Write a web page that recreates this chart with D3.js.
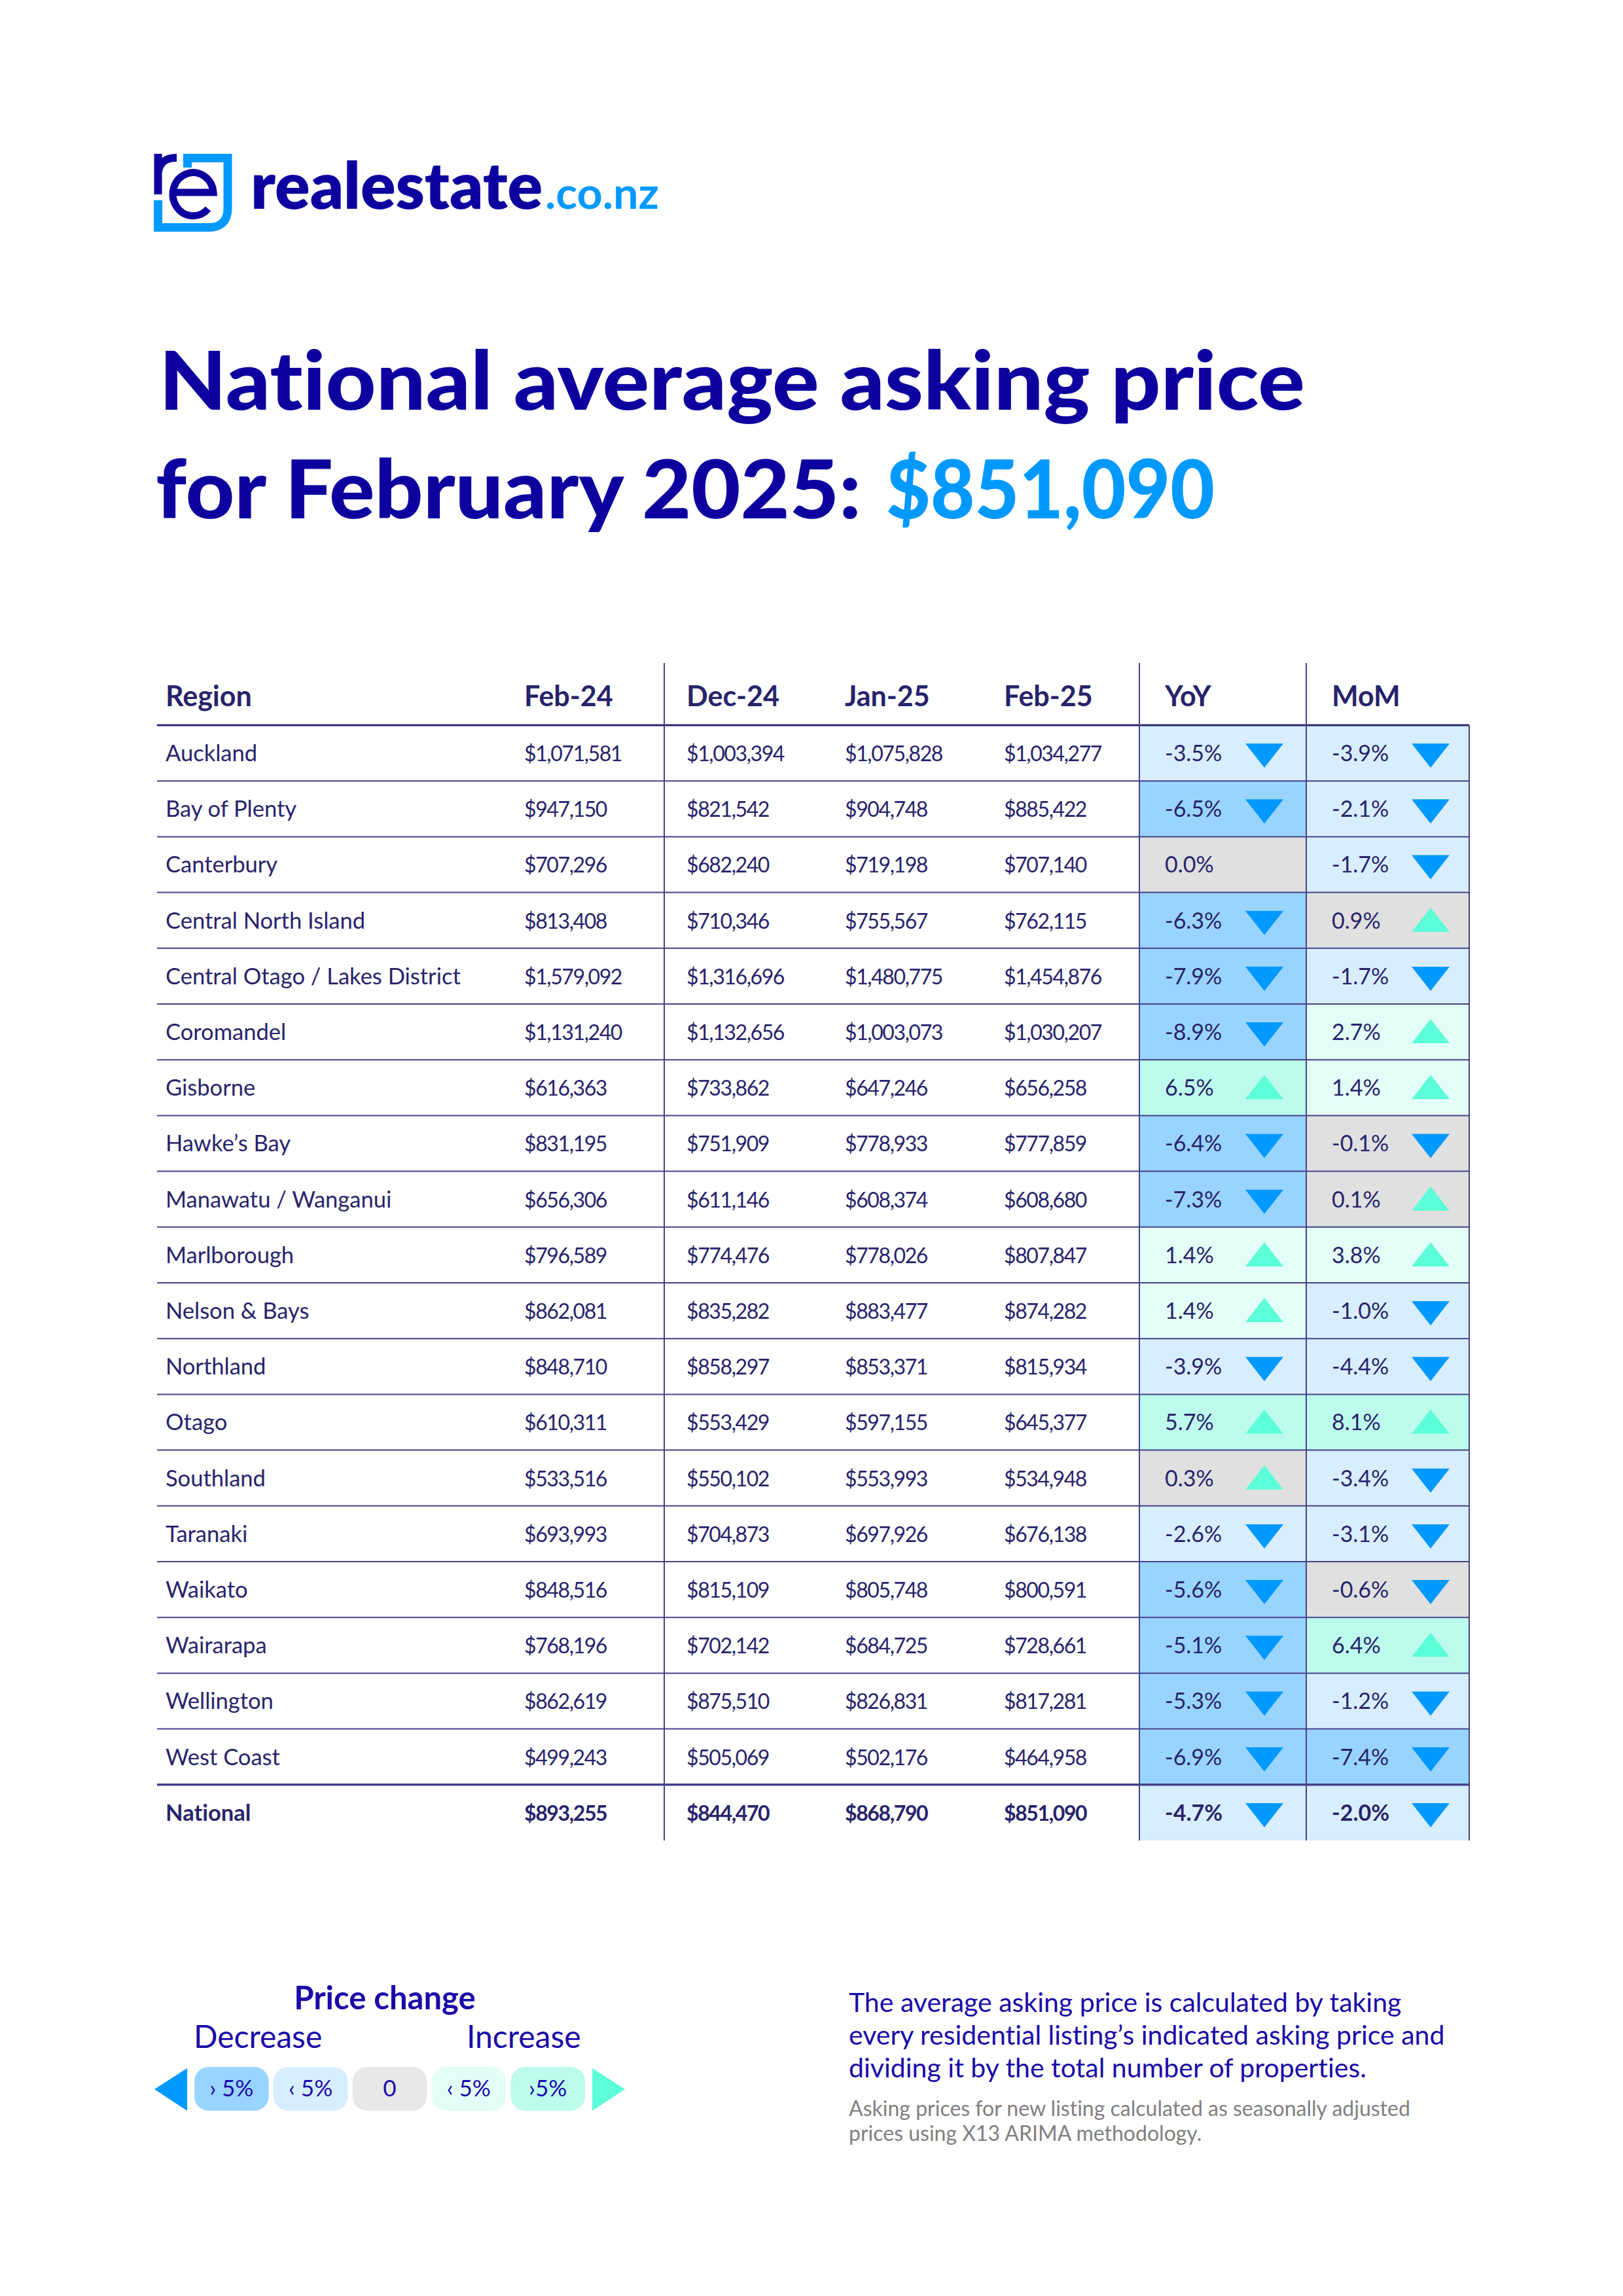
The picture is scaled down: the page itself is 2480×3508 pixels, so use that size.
<!DOCTYPE html>
<html><head><meta charset="utf-8">
<script src="https://cdnjs.cloudflare.com/ajax/libs/d3/7.8.5/d3.min.js"></script>
<style>html,body{margin:0;padding:0;background:#fff;} svg{display:block;font-variant-ligatures:none;font-feature-settings:"liga" 0,"clig" 0;}</style>
</head><body>
<script>
// ---------- DATA ----------
const regions = ["Auckland","Bay of Plenty","Canterbury","Central North Island","Central Otago / Lakes District","Coromandel","Gisborne","Hawke\u2019s Bay","Manawatu / Wanganui","Marlborough","Nelson & Bays","Northland","Otago","Southland","Taranaki","Waikato","Wairarapa","Wellington","West Coast","National"];
const feb24 = [1071581,947150,707296,813408,1579092,1131240,616363,831195,656306,796589,862081,848710,610311,533516,693993,848516,768196,862619,499243,893255];
const dec24 = [1003394,821542,682240,710346,1316696,1132656,733862,751909,611146,774476,835282,858297,553429,550102,704873,815109,702142,875510,505069,844470];
const jan25 = [1075828,904748,719198,755567,1480775,1003073,647246,778933,608374,778026,883477,853371,597155,553993,697926,805748,684725,826831,502176,868790];
const feb25 = [1034277,885422,707140,762115,1454876,1030207,656258,777859,608680,807847,874282,815934,645377,534948,676138,800591,728661,817281,464958,851090];
const yoy = [-3.5,-6.5,0.0,-6.3,-7.9,-8.9,6.5,-6.4,-7.3,1.4,1.4,-3.9,5.7,0.3,-2.6,-5.6,-5.1,-5.3,-6.9,-4.7];
const mom = [-3.9,-2.1,-1.7,0.9,-1.7,2.7,1.4,-0.1,0.1,3.8,-1.0,-4.4,8.1,-3.4,-3.1,-0.6,6.4,-1.2,-7.4,-2.0];
const columns = ["Region","Feb-24","Dec-24","Jan-25","Feb-25","YoY","MoM"];
const legendLabels = ["\u203A 5%","\u2039 5%","0","\u2039 5%","\u203A5%"];
const legendCats = ["bigDown","down","zero","up","bigUp"];
const titleLine1 = "National average asking price";
const titleLine2a = "for February 2025:";
const titleLine2b = "$851,090";
const noteLines = ["The average asking price is calculated by taking","every residential listing\u2019s indicated asking price and","dividing it by the total number of properties."];
const smallNoteLines = ["Asking prices for new listing calculated as seasonally adjusted","prices using X13 ARIMA methodology."];

// ---------- STYLE ----------
const W = 2480, H = 3508;
const navy = "#0d009f", sky = "#0099ff", ink = "#28236b", lineC = "#45428a", noteC = "#1a0aa8";
const FONT = "Lato, 'Open Sans', sans-serif";
const fills = d3.scaleOrdinal().domain(["bigDown","down","flat","up","bigUp","zero"])
  .range(["#99d4ff","#d8eefe","#e0e0e0","#e3fdf7","#bdfbec","#e8e8e8"]);
const arrowDown = "#0099ff", arrowUp = "#5cffd8";
function cat(v){ if (Math.abs(v) < 1) return "flat"; if (v <= -5) return "bigDown"; if (v < 0) return "down"; if (v >= 5) return "bigUp"; return "up"; }
function pct(v){ return (v < 0 ? "-" : "") + Math.abs(v).toFixed(1) + "%"; }
const money = d3.format("$,.0f");

const svg = d3.select("body").append("svg").attr("width", W).attr("height", H)
  .style("font-family", FONT);
svg.append("rect").attr("width", W).attr("height", H).attr("fill", "#fff");

// ---------- LOGO ----------
const logo = svg.append("g");
logo.append("path").attr("d","M 286.5 256 L 286.5 241.5 L 348 241.5 L 348 318 Q 348 347.5 318 347.5 L 241.5 347.5 L 241.5 306")
  .attr("fill","none").attr("stroke",sky).attr("stroke-width",13).attr("stroke-linejoin","miter");
logo.append("path").attr("d","M 241.5 297 L 241.5 235 M 241.5 266 Q 243 241 270 241")
  .attr("fill","none").attr("stroke",navy).attr("stroke-width",12);
logo.append("path").attr("d","M 265 294 L 326 294 A 31 33 0 1 0 318 319")
  .attr("fill","none").attr("stroke",navy).attr("stroke-width",11);
logo.append("text").attr("x",383).attr("y",319).attr("font-size",98).attr("font-weight",800)
  .attr("fill",navy).attr("textLength",446).attr("lengthAdjust","spacingAndGlyphs").text("realestate");
logo.append("text").attr("x",833).attr("y",319).attr("font-size",66).attr("font-weight",700)
  .attr("fill",sky).attr("textLength",174).attr("lengthAdjust","spacingAndGlyphs").text(".co.nz");

// ---------- TITLE ----------
svg.append("text").attr("x",243).attr("y",626).attr("font-size",124).attr("font-weight",900)
  .attr("fill",navy).attr("textLength",1751).attr("lengthAdjust","spacingAndGlyphs").text(titleLine1);
svg.append("text").attr("x",238).attr("y",792).attr("font-size",124).attr("font-weight",900)
  .attr("fill",navy).attr("textLength",1078).attr("lengthAdjust","spacingAndGlyphs").text(titleLine2a);
svg.append("text").attr("x",1354).attr("y",792).attr("font-size",124).attr("font-weight",900)
  .attr("fill",sky).attr("textLength",502).attr("lengthAdjust","spacingAndGlyphs").text(titleLine2b);

// ---------- TABLE ----------
const tLeft = 240, tRight = 2245, headTop = 1013, headBottom = 1108, tBottom = 2812;
const y = d3.scaleBand().domain(regions).range([headBottom, tBottom]);
const colX = d3.scaleOrdinal().domain(columns).range([253, 801, 1049, 1291, 1534, 1780, 2035]);
const cellX = { YoY: [1741, 1996], MoM: [1996, 2245] };
const arrowX = { YoY: 1932, MoM: 2186 };

const rows = regions.map((r, i) => ({ region: r, vals: [feb24[i], dec24[i], jan25[i], feb25[i]], YoY: yoy[i], MoM: mom[i], bold: r === "National" }));

// cell fills
const cells = svg.append("g");
["YoY","MoM"].forEach(k => {
  cells.selectAll("rect." + k).data(rows).join("rect").attr("class", k)
    .attr("x", cellX[k][0]).attr("width", cellX[k][1] - cellX[k][0])
    .attr("y", d => y(d.region)).attr("height", y.bandwidth())
    .attr("fill", d => fills(cat(d[k])));
});

// grid lines
const grid = svg.append("g").attr("stroke", lineC).attr("stroke-width", 2);
rows.forEach((d, i) => {
  if (i === 0) return;
  grid.append("line").attr("x1", tLeft).attr("x2", tRight).attr("y1", y(d.region)).attr("y2", y(d.region))
    .attr("stroke-width", d.bold ? 3.5 : 2);
});
grid.append("line").attr("x1", tLeft).attr("x2", tRight).attr("y1", headBottom).attr("y2", headBottom)
  .attr("stroke", "#2b2670").attr("stroke-width", 3);
[1015, 1741, 1996].forEach(x => grid.append("line").attr("x1", x).attr("x2", x).attr("y1", headTop).attr("y2", tBottom));
grid.append("line").attr("x1", tRight).attr("x2", tRight).attr("y1", headBottom).attr("y2", tBottom);

// header
svg.append("g").selectAll("text").data(columns).join("text")
  .attr("x", d => colX(d)).attr("y", 1079).attr("font-size", 43).attr("font-weight", 700)
  .attr("fill", ink).text(d => d);

// body text
const body = svg.append("g").attr("fill", ink);
const rowG = body.selectAll("g").data(rows).join("g")
  .attr("transform", d => `translate(0,${y(d.region) + 55})`)
  .attr("font-weight", d => d.bold ? 700 : 400);
rowG.append("text").attr("x", colX("Region")).attr("font-size", 34.5).text(d => d.region);
columns.slice(1, 5).forEach((c, j) => {
  rowG.append("text").attr("x", colX(c)).attr("font-size", 32).attr("letter-spacing", -1.4)
    .text(d => money(d.vals[j]));
});
["YoY","MoM"].forEach(k => {
  rowG.append("text").attr("x", colX(k)).attr("font-size", 34).text(d => pct(d[k]));
});

// arrows
const arrows = svg.append("g");
["YoY","MoM"].forEach(k => {
  arrows.selectAll("path." + k).data(rows.filter(d => d[k] !== 0)).join("path").attr("class", k)
    .attr("d", d => {
      const cx = arrowX[k], c = y(d.region) + y.bandwidth() / 2;
      if (d[k] < 0) { const cy = c + 4; return `M${cx-29},${cy-18.5} L${cx+29},${cy-18.5} L${cx},${cy+18.5} Z`; }
      const cy = c - 1; return `M${cx-29},${cy+18.5} L${cx+29},${cy+18.5} L${cx},${cy-18.5} Z`;
    })
    .attr("fill", d => d[k] < 0 ? arrowDown : arrowUp);
});

// ---------- LEGEND ----------
const lg = svg.append("g").attr("fill", noteC);
lg.append("text").attr("x", 588).attr("y", 3070).attr("text-anchor", "middle").attr("font-size", 49)
  .attr("font-weight", 700).text("Price change");
lg.append("text").attr("x", 296).attr("y", 3129).attr("font-size", 48).attr("font-weight", 400).text("Decrease");
lg.append("text").attr("x", 713).attr("y", 3129).attr("font-size", 48).attr("font-weight", 400).text("Increase");
const px = d3.scaleBand().domain(d3.range(legendLabels.length)).range([297, 894]).paddingInner(0.06);
lg.selectAll("rect.pill").data(legendLabels).join("rect").attr("class", "pill")
  .attr("x", (d, i) => px(i)).attr("y", 3158).attr("width", px.bandwidth()).attr("height", 67)
  .attr("rx", 22).attr("fill", (d, i) => fills(legendCats[i]));
lg.selectAll("text.pl").data(legendLabels).join("text").attr("class", "pl")
  .attr("x", (d, i) => px(i) + px.bandwidth() / 2).attr("y", 3203).attr("text-anchor", "middle")
  .attr("font-size", 35).attr("fill", noteC).text(d => d);
lg.append("path").attr("d", "M236,3192 L286,3160 L286,3225 Z").attr("fill", arrowDown);
lg.append("path").attr("d", "M955,3192 L905,3160 L905,3225 Z").attr("fill", arrowUp);

// ---------- NOTES ----------
svg.append("g").selectAll("text").data(noteLines).join("text")
  .attr("x", 1297).attr("y", (d, i) => 3074 + i * 50).attr("font-size", 41).attr("fill", noteC).text(d => d);
svg.append("g").selectAll("text").data(smallNoteLines).join("text")
  .attr("x", 1297).attr("y", (d, i) => 3233 + i * 38).attr("font-size", 32).attr("fill", "#7f7f7f").text(d => d);
</script>
</body></html>
